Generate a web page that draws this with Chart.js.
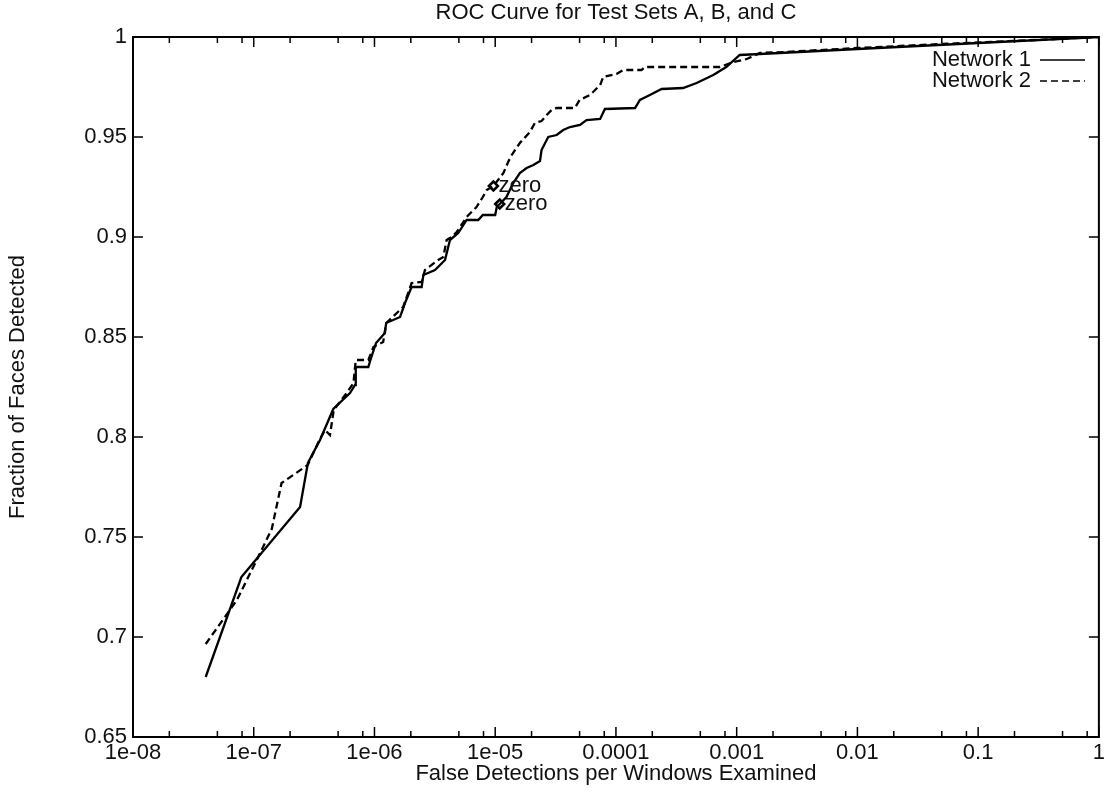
<!DOCTYPE html>
<html>
<head>
<meta charset="utf-8">
<title>ROC Curve for Test Sets A, B, and C</title>
<script src="https://cdn.jsdelivr.net/npm/chart.js@4.4.1/dist/chart.umd.min.js"></script>
<style>
  html, body { margin: 0; padding: 0; background: #fff; }
</style>
</head>
<body>
<canvas id="chart" width="1108" height="797"></canvas>
<script>
'use strict'

/******************     DATA    ******************/

const chartTitle = 'ROC Curve for Test Sets A, B, and C';
const xTitle = 'False Detections per Windows Examined';
const yTitle = 'Fraction of Faces Detected';
const seriesNames = ['Network 1', 'Network 2'];

// x axis (log), decade ticks + the minor ones that show in the picture
const xTickVals = [1e-8, 1e-7, 1e-6, 1e-5, 1e-4, 1e-3, 1e-2, 1e-1, 1];
const xTickLabels = ['1e-08', '1e-07', '1e-06', '1e-05', '0.0001', '0.001', '0.01', '0.1', '1'];
const xMinorSteps = [2, 5, 8];

const yTickVals = [0.65, 0.7, 0.75, 0.8, 0.85, 0.9, 0.95, 1];
const yTickLabels = ['0.65', '0.7', '0.75', '0.8', '0.85', '0.9', '0.95', '1'];

// Network 1 (solid)
const net1X = [4.0e-8, 7.9e-8, 2.42e-7, 2.81e-7, 3.54e-7, 4.56e-7, 6.27e-7, 6.9e-7, 7.0e-7, 8.9e-7,
  9.2e-7, 1.03e-6, 1.22e-6, 1.25e-6, 1.63e-6, 1.79e-6, 2.03e-6, 2.46e-6, 2.54e-6, 3.17e-6,
  3.84e-6, 4.22e-6, 4.94e-6, 5.8e-6, 7.24e-6, 7.9e-6, 1.0e-5, 1.03e-5, 1.09e-5, 1.24e-5,
  1.41e-5, 1.6e-5, 1.82e-5, 2.07e-5, 2.35e-5, 2.42e-5, 2.75e-5, 3.23e-5, 3.66e-5, 4.16e-5,
  5.04e-5, 5.71e-5, 7.4e-5, 8.1e-5, 1.44e-4, 1.58e-4, 1.91e-4, 2.39e-4, 3.6e-4, 4.66e-4,
  6.4e-4, 8.2e-4, 1.06e-3, 1.56e-3, 1.0e-2, 1.0e-1, 1];
const net1Y = [0.680, 0.730, 0.765, 0.787, 0.7985, 0.814, 0.822, 0.826, 0.835, 0.835,
  0.838, 0.847, 0.852, 0.857, 0.860, 0.867, 0.875, 0.875, 0.881, 0.8835,
  0.8885, 0.8985, 0.902, 0.9085, 0.9085, 0.911, 0.911, 0.915, 0.9165, 0.920,
  0.927, 0.932, 0.9345, 0.936, 0.938, 0.9435, 0.950, 0.951, 0.9535, 0.955,
  0.956, 0.9585, 0.959, 0.964, 0.9645, 0.9685, 0.971, 0.974, 0.9745, 0.977,
  0.981, 0.985, 0.991, 0.9915, 0.994, 0.997, 1.0];

// Network 2 (dashed)
const net2X = [4.0e-8, 7.26e-8, 1.13e-7, 1.41e-7, 1.70e-7, 2.8e-7, 3.5e-7, 3.89e-7, 4.28e-7, 4.6e-7,
  5.89e-7, 6.7e-7, 7.0e-7, 8.9e-7, 9.8e-7, 1.18e-6, 1.25e-6, 1.73e-6, 2.03e-6, 2.46e-6,
  2.62e-6, 3.37e-6, 3.72e-6, 3.96e-6, 4.36e-6, 4.8e-6, 5.8e-6, 7.0e-6, 7.9e-6, 8.5e-6,
  9.66e-6, 1.17e-5, 1.28e-5, 1.37e-5, 1.6e-5, 1.94e-5, 2.13e-5, 2.42e-5, 2.67e-5, 2.93e-5,
  3.22e-5, 4.57e-5, 5.0e-5, 6.1e-5, 7.4e-5, 7.85e-5, 1.01e-4, 1.15e-4, 1.63e-4, 1.74e-4,
  7.26e-4, 9.38e-4, 1.21e-3, 1.56e-3, 2.5e-3, 1.0e-2, 5.0e-2, 0.3, 1];
const net2Y = [0.6965, 0.7185, 0.742, 0.754, 0.777, 0.786, 0.7985, 0.8035, 0.801, 0.8135,
  0.822, 0.827, 0.8385, 0.8385, 0.845, 0.8475, 0.857, 0.865, 0.877, 0.8775,
  0.8835, 0.8885, 0.890, 0.8985, 0.900, 0.9025, 0.910, 0.915, 0.920, 0.9235,
  0.9255, 0.932, 0.9375, 0.941, 0.947, 0.9525, 0.957, 0.958, 0.961, 0.9635,
  0.9645, 0.9645, 0.9685, 0.971, 0.976, 0.980, 0.9815, 0.9835, 0.9835, 0.985,
  0.985, 0.9875, 0.989, 0.992, 0.9925, 0.9945, 0.9965, 0.9985, 1.0];

// the two "zero" threshold markers
const zeroX = [9.66e-6, 1.09e-5];
const zeroY = [0.9255, 0.9165];
const zeroText = ['zero', 'zero'];

/******************     HELPERS    ******************/

const FONT = '"Liberation Sans", Arial, Helvetica, sans-serif';
const INK = '#111';
const toPoints = (xs, ys) => xs.map((x, i) => ({ x: x, y: ys[i] }));

const strokeLine = (ctx, x1, y1, x2, y2) => {
    ctx.beginPath();
    ctx.moveTo(x1, y1);
    ctx.lineTo(x2, y2);
    ctx.stroke();
}

// gnuplot style frame with inward ticks on all four sides
const frameTicks = {
    id: 'frameTicks',
    afterDatasetsDraw(chart) {
        const { ctx, chartArea: a, scales: { x, y } } = chart;
        ctx.save();
        ctx.strokeStyle = '#000';
        ctx.lineWidth = 1.5;
        for (const v of xTickVals) {
            const px = x.getPixelForValue(v);
            strokeLine(ctx, px, a.bottom, px, a.bottom - 10);
            strokeLine(ctx, px, a.top, px, a.top + 10);
            if (v >= 1) continue;
            for (const m of xMinorSteps) {
                const pm = x.getPixelForValue(v * m);
                strokeLine(ctx, pm, a.bottom, pm, a.bottom - 6);
                strokeLine(ctx, pm, a.top, pm, a.top + 6);
            }
        }
        for (const v of yTickVals) {
            const py = y.getPixelForValue(v);
            strokeLine(ctx, a.left, py, a.left + 10, py);
            strokeLine(ctx, a.right, py, a.right - 10, py);
        }
        ctx.lineWidth = 2;
        ctx.strokeRect(a.left, a.top, a.right - a.left, a.bottom - a.top);
        ctx.restore();
    }
}

// text first, sample after (like gnuplot's key) + the "zero" labels
const keyAndNotes = {
    id: 'keyAndNotes',
    afterDatasetsDraw(chart) {
        const { ctx, scales: { x, y } } = chart;
        ctx.save();
        ctx.font = '22px ' + FONT;
        ctx.fillStyle = INK;
        ctx.textBaseline = 'middle';
        // key
        const keyRight = 1031;
        const sampleFrom = 1040, sampleTo = 1085;
        seriesNames.forEach((name, i) => {
            const ds = chart.data.datasets[i];
            const ky = 60 + i * 21;
            ctx.textAlign = 'right';
            ctx.fillText(name, keyRight, ky);
            ctx.strokeStyle = '#000';
            ctx.lineWidth = 1.6;
            ctx.setLineDash(ds.borderDash || []);
            strokeLine(ctx, sampleFrom, ky, sampleTo, ky);
            ctx.setLineDash([]);
        });
        // zero notes
        ctx.textAlign = 'left';
        zeroText.forEach((t, i) => {
            const px = x.getPixelForValue(zeroX[i]);
            const py = y.getPixelForValue(zeroY[i]);
            ctx.fillText(t, px + 5, py);
        });
        ctx.restore();
    }
}

/******************     CHART    ******************/

const ctx = document.getElementById('chart');
const chart = new Chart(ctx, {
    type: 'line',
    data: {
        datasets: [
            {
                label: seriesNames[0],
                data: toPoints(net1X, net1Y),
                borderColor: '#000',
                borderWidth: 2.3,
                pointRadius: 0,
                tension: 0,
                fill: false
            },
            {
                label: seriesNames[1],
                data: toPoints(net2X, net2Y),
                borderColor: '#000',
                borderWidth: 2.3,
                borderDash: [7, 4],
                pointRadius: 0,
                tension: 0,
                fill: false
            },
            {
                label: 'zero',
                data: toPoints(zeroX, zeroY),
                showLine: false,
                pointStyle: 'rectRot',
                pointRadius: 4.5,
                pointBorderWidth: 2.5,
                pointBorderColor: '#000',
                pointBackgroundColor: '#fff'
            }
        ]
    },
    options: {
        responsive: false,
        animation: false,
        devicePixelRatio: 1,
        layout: { padding: { left: 0, right: 9, top: 0, bottom: 0 } },
        plugins: {
            legend: { display: false },
            tooltip: { enabled: false },
            title: {
                display: true,
                text: chartTitle,
                fullSize: false,
                color: INK,
                font: { family: FONT, size: 22, weight: 'normal' },
                padding: { top: 0, bottom: 10.6 }
            }
        },
        scales: {
            x: {
                type: 'logarithmic',
                min: 1e-8,
                max: 1,
                afterBuildTicks: (s) => { s.ticks = xTickVals.map(v => ({ value: v })); },
                afterFit: (s) => { s.height = 60; },
                grid: { display: false, drawTicks: false },
                border: { display: false },
                ticks: {
                    callback: (v, i) => xTickLabels[i],
                    autoSkip: false,
                    maxRotation: 0,
                    padding: 3,
                    color: INK,
                    font: { family: FONT, size: 22 }
                },
                title: {
                    display: true,
                    text: xTitle,
                    color: INK,
                    font: { family: FONT, size: 22 },
                    padding: { top: 0, bottom: 10 }
                }
            },
            y: {
                min: 0.65,
                max: 1,
                afterBuildTicks: (s) => { s.ticks = yTickVals.map(v => ({ value: v })); },
                afterFit: (s) => { s.width = 133; },
                grid: { display: false, drawTicks: false },
                border: { display: false },
                ticks: {
                    callback: (v, i) => yTickLabels[i],
                    padding: 6,
                    color: INK,
                    font: { family: FONT, size: 22 }
                },
                title: {
                    display: true,
                    text: yTitle,
                    color: INK,
                    font: { family: FONT, size: 22 },
                    padding: { top: 5, bottom: 0 }
                }
            }
        }
    },
    plugins: [frameTicks, keyAndNotes]
});
</script>
</body>
</html>
